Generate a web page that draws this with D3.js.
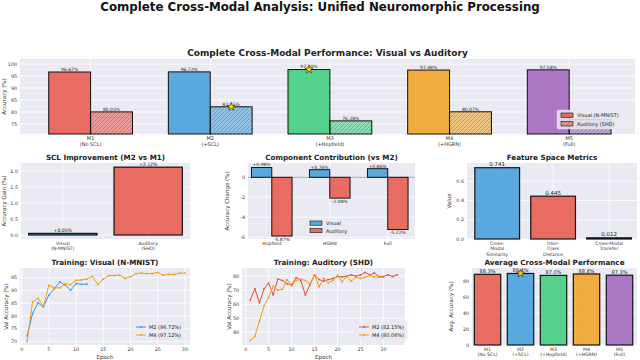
<!DOCTYPE html>
<html>
<head>
<meta charset="utf-8">
<script src="https://cdn.jsdelivr.net/npm/d3@7/dist/d3.min.js"></script>
<style>
  body { margin: 0; background: #fff; }
  svg { font-family: "DejaVu Sans", sans-serif; }
</style>
</head>
<body>
<svg id="chart" width="640" height="360"></svg>
<script>
// ---- data ----
const models = ["M1", "M2", "M3", "M4", "M5"];
const modelNotes = ["(No SCL)", "(+SCL)", "(+Hopfield)", "(+HGRN)", "(Full)"];
const visualAcc = [96.67, 96.72, 97.70, 97.48, 97.58];
const auditoryAcc = [80.03, 82.15, 76.28, 80.07, 76.93];
const avgAcc = [88.35, 89.44, 86.99, 88.78, 87.26];

const sclLabels = [["Visual", "(N-MNIST)"], ["Auditory", "(SHD)"]];
const sclGain = [0.05, 2.12];

const componentNames = ["Hopfield", "HGRN", "Full"];
const componentVisual = [0.98, 0.76, 0.86];
const componentAuditory = [-5.87, -2.08, -5.22];

const featureNames = [["Cross-", "Modal", "Similarity"], ["Inter-", "Class", "Distance"], ["Cross-Modal", "Transfer"]];
const featureValues = [0.741, 0.445, 0.012];

const visualM2 = [72.2, 80.9, 85.2, 83.5, 88.2, 90.7, 93.3, 92.1, 90.1, 92.7, 92.4, 92.5];
const visualM4 = [70.0, 85.5, 86.9, 83.6, 92.0, 91.0, 91.0, 92.6, 92.3, 94.0, 94.1, 94.5, 95.5, 92.3, 94.4,
                  95.8, 95.9, 96.0, 94.7, 95.4, 96.6, 96.8, 96.6, 96.6, 97.1, 96.0, 96.3, 96.3, 96.8, 96.8];
const auditoryM2 = [63.0, 71.0, 61.0, 71.0, 75.0, 66.6, 78.0, 77.0, 74.6, 74.0, 79.0, 77.0, 66.6, 74.0, 81.0,
                    77.6, 76.5, 77.6, 78.4, 79.8, 79.5, 80.0, 81.0, 80.0, 81.0, 82.8, 81.0, 82.4, 79.8, 79.8,
                    81.0, 79.8, 81.0];
const auditoryM4 = [34.1, 37.0, 48.0, 59.0, 64.7, 73.0, 70.0, 70.6, 77.6, 73.0, 77.0, 78.0, 77.0, 74.6, 80.7,
                    72.5, 78.4, 75.3, 77.0, 80.7, 76.0, 79.8, 76.5, 79.3, 78.4, 79.3, 80.5, 79.5, 79.3, 79.3];

const colors = ["#e74c3c", "#3498db", "#2ecc71", "#f39c12", "#9b59b6"];
const BLUE = "#3498db", RED = "#e74c3c", ORANGE = "#f39c12", GREEN = "#2ecc71";

const svg = d3.select("#chart");
const defs = svg.append("defs");

// hatch patterns for the auditory bars, one per model colour
colors.forEach((c, i) => {
    let p = defs.append("pattern")
        .attr("id", "hatch" + i)
        .attr("patternUnits", "userSpaceOnUse")
        .attr("width", 4).attr("height", 4);
    p.append("rect").attr("width", 4).attr("height", 4).attr("fill", c).attr("fill-opacity", 0.5);
    p.append("path")
        .attr("d", "M-1,1 l2,-2 M0,4 l4,-4 M3,5 l2,-2")
        .attr("stroke", "#333").attr("stroke-opacity", 0.55).attr("stroke-width", 0.5);
});

/**
 * Draw the grey plot background and title for one subplot
 */
function panel(box, title, titleSize) {
    let g = svg.append("g");
    g.append("rect")
        .attr("x", box.x).attr("y", box.y)
        .attr("width", box.w).attr("height", box.h)
        .attr("fill", "#eaeaf2");
    g.append("text")
        .attr("x", box.x + box.w / 2).attr("y", box.y - 3)
        .attr("text-anchor", "middle")
        .attr("font-size", titleSize || 7.2)
        .attr("font-weight", "bold")
        .attr("fill", "#222")
        .text(title);
    return g;
}

//horizontal grid + tick labels on the left
function yAxis(g, box, y, ticks, fmt, label, labelX) {
    ticks.forEach(t => {
        g.append("line")
            .attr("x1", box.x).attr("x2", box.x + box.w)
            .attr("y1", y(t)).attr("y2", y(t))
            .attr("stroke", "#fff").attr("stroke-width", 0.8);
        g.append("text")
            .attr("x", box.x - 3).attr("y", y(t) + 1.7)
            .attr("text-anchor", "end").attr("font-size", 4.8).attr("fill", "#333")
            .text(fmt(t));
    });
    g.append("text")
        .attr("transform", "translate(" + labelX + "," + (box.y + box.h / 2) + ") rotate(-90)")
        .attr("text-anchor", "middle").attr("font-size", 5.5).attr("fill", "#333")
        .text(label);
}

//vertical grid lines + multi-line category labels
function xCategories(g, box, x, labels, grid, size) {
    labels.forEach((lines, i) => {
        if (grid) {
            g.append("line")
                .attr("x1", x(i)).attr("x2", x(i))
                .attr("y1", box.y).attr("y2", box.y + box.h)
                .attr("stroke", "#fff").attr("stroke-width", 0.8);
        }
        let t = g.append("text")
            .attr("x", x(i)).attr("y", box.y + box.h + 6)
            .attr("text-anchor", "middle").attr("font-size", size || 4.6).attr("fill", "#333");
        lines.forEach((s, k) => {
            t.append("tspan").attr("x", x(i)).attr("dy", k == 0 ? 0 : (size || 4.6) * 1.17).text(s);
        });
    });
}

function bar(g, x0, x1, y0, y1, fill, opacity, lw) {
    return g.append("rect")
        .attr("x", Math.min(x0, x1)).attr("y", Math.min(y0, y1))
        .attr("width", Math.abs(x1 - x0)).attr("height", Math.max(0.6, Math.abs(y1 - y0)))
        .attr("fill", fill).attr("fill-opacity", opacity)
        .attr("stroke", "#111").attr("stroke-width", lw || 1);
}

function valueLabel(g, x, y, text, size) {
    g.append("text")
        .attr("x", x).attr("y", y)
        .attr("text-anchor", "middle").attr("font-size", size || 4.5).attr("fill", "#222")
        .text(text);
}

function star(g, cx, cy, r) {
    let pts = [];
    for (let k = 0; k < 10; k++) {
        let rad = k % 2 == 0 ? r : r * 0.42;
        let a = -Math.PI / 2 + k * Math.PI / 5;
        pts.push([cx + rad * Math.cos(a), cy + rad * Math.sin(a)]);
    }
    g.append("polygon")
        .attr("points", pts.map(p => p.join(",")).join(" "))
        .attr("fill", "#ffd700").attr("stroke", "#222").attr("stroke-width", 0.6);
}

// ---- main title ----
svg.append("text")
    .attr("x", 320).attr("y", 10.5)
    .attr("text-anchor", "middle")
    .attr("font-size", 11.8).attr("font-weight", "bold").attr("fill", "#111")
    .text("Complete Cross-Modal Analysis: Unified Neuromorphic Processing");

// ---- top: visual vs auditory per model ----
(function() {
    let box = {x: 20, y: 59, w: 615, h: 75};
    let g = panel(box, "Complete Cross-Modal Performance: Visual vs Auditory", 9);
    let x = d3.scaleLinear().domain([-0.59, 4.55]).range([box.x, box.x + box.w]);
    let y = d3.scaleLinear().domain([70.8, 102.1]).range([box.y + box.h, box.y]);
    let base = box.y + box.h;

    yAxis(g, box, y, [75, 80, 85, 90, 95, 100], d => d, "Accuracy (%)", 6);
    xCategories(g, box, x, models.map((m, i) => [m, modelNotes[i]]), true, 5);

    let w = 0.35;
    models.forEach((m, i) => {
        bar(g, x(i - w), x(i), base, y(visualAcc[i]), colors[i], 0.8);
        bar(g, x(i), x(i + w), base, y(auditoryAcc[i]), "url(#hatch" + i + ")", 1);
        valueLabel(g, x(i - w / 2), y(visualAcc[i]) - 1.2, visualAcc[i].toFixed(2) + "%");
        valueLabel(g, x(i + w / 2), y(auditoryAcc[i]) - 1.2, auditoryAcc[i].toFixed(2) + "%");
    });

    //mark the best model of each modality
    let bv = d3.maxIndex(visualAcc), ba = d3.maxIndex(auditoryAcc);
    star(g, x(bv - w / 2), y(visualAcc[bv]), 4.2);
    star(g, x(ba + w / 2), y(auditoryAcc[ba]), 4.2);

    //legend, sits over the last auditory bar like in the original
    let lg = g.append("g");
    lg.append("rect").attr("x", 557).attr("y", 110).attr("width", 77).attr("height", 19)
        .attr("rx", 1.5).attr("fill", "#eaeaf2").attr("fill-opacity", 0.85)
        .attr("stroke", "#ddd").attr("stroke-width", 0.4);
    [["Visual (N-MNIST)", RED, 0.8], ["Auditory (SHD)", "url(#hatch0)", 1]].forEach((d, k) => {
        lg.append("rect").attr("x", 561).attr("y", 113 + k * 8.5).attr("width", 12).attr("height", 4.5)
            .attr("fill", d[1]).attr("fill-opacity", d[2]).attr("stroke", "#111").attr("stroke-width", 0.6);
        lg.append("text").attr("x", 577).attr("y", 117.3 + k * 8.5)
            .attr("font-size", 5).attr("fill", "#222").text(d[0]);
    });
})();

// ---- middle left: SCL improvement ----
(function() {
    let box = {x: 21, y: 163, w: 169, h: 76};
    let g = panel(box, "SCL Improvement (M2 vs M1)");
    let x = d3.scaleLinear().domain([-0.49, 1.49]).range([box.x, box.x + box.w]);
    let y = d3.scaleLinear().domain([-0.125, 2.25]).range([box.y + box.h, box.y]);

    yAxis(g, box, y, [0, 0.5, 1, 1.5, 2], d3.format(".1f"), "Accuracy Gain (%)", 6);
    xCategories(g, box, x, sclLabels, true);

    sclGain.forEach((v, i) => {
        bar(g, x(i - 0.4), x(i + 0.4), y(0), y(v), i == 0 ? BLUE : RED, 0.8, 1.2);
        valueLabel(g, x(i), y(v) - 1, "+" + v.toFixed(2) + "%", 4.6);
    });
})();

// ---- middle centre: component contribution ----
(function() {
    let box = {x: 248, y: 163, w: 167, h: 76};
    let g = panel(box, "Component Contribution (vs M2)");
    let x = d3.scaleLinear().domain([-0.41, 2.47]).range([box.x, box.x + box.w]);
    let y = d3.scaleLinear().domain([-6.17, 1.43]).range([box.y + box.h, box.y]);

    yAxis(g, box, y, [-6, -4, -2, 0], d => d, "Accuracy Change (%)", 229);
    xCategories(g, box, x, componentNames.map(d => [d]), true);

    //zero reference line
    g.append("line")
        .attr("x1", box.x).attr("x2", box.x + box.w)
        .attr("y1", y(0)).attr("y2", y(0))
        .attr("stroke", "#777").attr("stroke-width", 0.6);

    let w = 0.35;
    componentNames.forEach((c, i) => {
        bar(g, x(i - w), x(i), y(0), y(componentVisual[i]), BLUE, 0.8);
        bar(g, x(i), x(i + w), y(0), y(componentAuditory[i]), RED, 0.8);
        valueLabel(g, x(i - w / 2), y(componentVisual[i]) - 1.2, "+" + componentVisual[i].toFixed(2) + "%");
        valueLabel(g, x(i + w / 2), y(componentAuditory[i]) + 4.8, componentAuditory[i].toFixed(2) + "%");
    });

    let lg = g.append("g");
    lg.append("rect").attr("x", 307).attr("y", 219).attr("width", 41).attr("height", 16)
        .attr("rx", 1.5).attr("fill", "#eaeaf2").attr("fill-opacity", 0.8)
        .attr("stroke", "#ddd").attr("stroke-width", 0.4);
    [["Visual", BLUE], ["Auditory", RED]].forEach((d, k) => {
        lg.append("rect").attr("x", 310).attr("y", 221 + k * 7.5).attr("width", 12).attr("height", 4.2)
            .attr("fill", d[1]).attr("fill-opacity", 0.8).attr("stroke", "#111").attr("stroke-width", 0.6);
        lg.append("text").attr("x", 326).attr("y", 225 + k * 7.5)
            .attr("font-size", 5).attr("fill", "#222").text(d[0]);
    });
})();

// ---- middle right: feature space metrics ----
(function() {
    let box = {x: 467, y: 163, w: 170, h: 76};
    let g = panel(box, "Feature Space Metrics");
    let x = d3.scaleLinear().domain([-0.54, 2.5]).range([box.x, box.x + box.w]);
    let y = d3.scaleLinear().domain([0, 0.79]).range([box.y + box.h, box.y]);

    yAxis(g, box, y, [0, 0.2, 0.4, 0.6], d3.format(".1f"), "Value", 451);
    xCategories(g, box, x, featureNames, true);

    let fc = [BLUE, RED, GREEN];
    featureValues.forEach((v, i) => {
        bar(g, x(i - 0.4), x(i + 0.4), y(0), y(v), fc[i], 0.8, 1.2);
        valueLabel(g, x(i), y(v) - 1.5, v.toFixed(3), 5.5);
    });
})();

/**
 * Line chart of validation accuracy over epochs for two models
 */
function trainingPanel(box, title, xDomain, yDomain, yTicks, series, labelX, legendX) {
    let g = panel(box, title);
    let x = d3.scaleLinear().domain(xDomain).range([box.x, box.x + box.w]);
    let y = d3.scaleLinear().domain(yDomain).range([box.y + box.h, box.y]);

    yAxis(g, box, y, yTicks, d => d, "Val Accuracy (%)", labelX);

    [0, 5, 10, 15, 20, 25, 30].forEach(t => {
        g.append("line")
            .attr("x1", x(t)).attr("x2", x(t))
            .attr("y1", box.y).attr("y2", box.y + box.h)
            .attr("stroke", "#fff").attr("stroke-width", 0.8);
        g.append("text")
            .attr("x", x(t)).attr("y", box.y + box.h + 5.5)
            .attr("text-anchor", "middle").attr("font-size", 4.8).attr("fill", "#333")
            .text(t);
    });
    g.append("text")
        .attr("x", box.x + box.w / 2).attr("y", 358.5)
        .attr("text-anchor", "middle").attr("font-size", 5.5).attr("fill", "#333")
        .text("Epoch");

    let line = d3.line().x((d, i) => x(i + 1)).y(d => y(d));
    series.forEach(s => {
        g.append("path").datum(s.values)
            .attr("d", line)
            .attr("fill", "none").attr("stroke", s.color).attr("stroke-width", 1);
        g.selectAll(null).data(s.values).enter().append("circle")
            .attr("cx", (d, i) => x(i + 1)).attr("cy", d => y(d))
            .attr("r", 0.9).attr("fill", s.color);
    });

    //legend bottom right
    let lg = g.append("g");
    lg.append("rect").attr("x", legendX - 4).attr("y", 322).attr("width", 52).attr("height", 17)
        .attr("rx", 1.5).attr("fill", "#eaeaf2").attr("fill-opacity", 0.8)
        .attr("stroke", "#ddd").attr("stroke-width", 0.4);
    series.forEach((s, k) => {
        let yy = 327 + k * 8;
        lg.append("line").attr("x1", legendX).attr("x2", legendX + 10)
            .attr("y1", yy).attr("y2", yy).attr("stroke", s.color).attr("stroke-width", 1);
        lg.append("circle").attr("cx", legendX + 5).attr("cy", yy).attr("r", 0.9).attr("fill", s.color);
        lg.append("text").attr("x", legendX + 13).attr("y", yy + 1.8)
            .attr("font-size", 5).attr("fill", "#222").text(s.label);
    });
}

trainingPanel({x: 20, y: 268, w: 170, h: 77}, "Training: Visual (N-MNIST)",
    [-0.31, 30.94], [68.6, 98.8], [70, 75, 80, 85, 90, 95],
    [{label: "M2 (96.72%)", color: BLUE, values: visualM2},
     {label: "M4 (97.12%)", color: ORANGE, values: visualM4}], 8, 136);

trainingPanel({x: 242, y: 268, w: 163, h: 77}, "Training: Auditory (SHD)",
    [-0.8, 34.7], [30.8, 85.9], [40, 50, 60, 70, 80],
    [{label: "M2 (82.15%)", color: RED, values: auditoryM2},
     {label: "M4 (80.06%)", color: ORANGE, values: auditoryM4}], 231, 359);

// ---- bottom right: average cross-modal performance ----
(function() {
    let box = {x: 472, y: 268, w: 165, h: 77};
    let g = panel(box, "Average Cross-Modal Performance");
    let x = d3.scaleLinear().domain([-0.47, 4.53]).range([box.x, box.x + box.w]);
    let y = d3.scaleLinear().domain([0, 96.25]).range([box.y + box.h, box.y]);

    yAxis(g, box, y, [0, 20, 40, 60, 80], d => d, "Avg. Accuracy (%)", 453);
    xCategories(g, box, x, models.map((m, i) => [m, modelNotes[i]]), true);

    avgAcc.forEach((v, i) => {
        bar(g, x(i - 0.4), x(i + 0.4), y(0), y(v), colors[i], 0.8, 1.2);
        valueLabel(g, x(i), y(v) - 1.3, v.toFixed(1) + "%", 5);
    });
    let b = d3.maxIndex(avgAcc);
    star(g, x(b), y(avgAcc[b]), 4.2);
})();
</script>
</body>
</html>
